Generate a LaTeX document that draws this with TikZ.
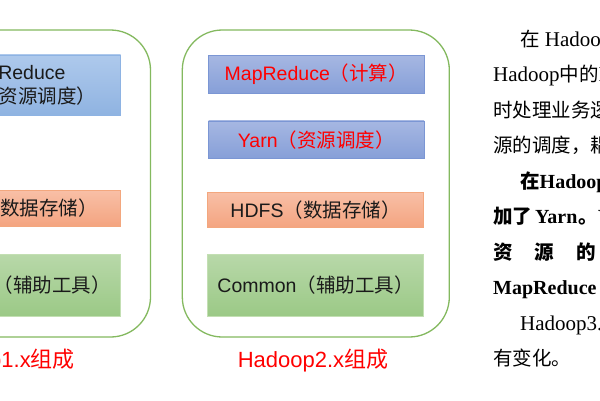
\documentclass[tikz,border=0pt]{standalone}
\usepackage{fontspec}
\setmainfont{Liberation Serif}
\newfontfamily\cjk{Noto Sans CJK SC}
\newfontfamily\arialf{Liberation Sans}
\newcommand\zh[1]{{\cjk\fontsize{19.5}{22}\selectfont #1}}
\definecolor{contgreen}{HTML}{84B95F}
\definecolor{lbtop}{HTML}{AEC9EC}
\definecolor{lbbot}{HTML}{8FB3E1}
\definecolor{lbdraw}{HTML}{8EB3E3}
\definecolor{rbtop}{HTML}{A6B7E2}
\definecolor{rbbot}{HTML}{869FD8}
\definecolor{rbdraw}{HTML}{7B96D4}
\definecolor{ortop}{HTML}{F8BFA6}
\definecolor{orbot}{HTML}{F4A480}
\definecolor{ordraw}{HTML}{F3A77E}
\definecolor{grtop}{HTML}{B8D8A9}
\definecolor{grbot}{HTML}{9BC986}
\definecolor{grdraw}{HTML}{C3DFB3}
\definecolor{txtdark}{HTML}{1A1A1A}
\begin{document}
\begin{tikzpicture}[x=1pt,y=-1pt,
  container/.style={draw=contgreen, line width=1.3pt, rounded corners=40pt, minimum width=267pt, minimum height=307pt, inner sep=0pt},
  blockbase/.style={line width=0.8pt, inner sep=0pt, minimum width=215.6pt, text=txtdark, align=center, font=\arialf\fontsize{19.5}{24}\selectfont},
  bluel/.style={blockbase, top color=lbtop, bottom color=lbbot, draw=lbdraw},
  bluer/.style={blockbase, top color=rbtop, bottom color=rbbot, draw=rbdraw, text=red},
  orangebox/.style={blockbase, top color=ortop, bottom color=orbot, draw=ordraw, minimum height=35.5pt},
  greenbox/.style={blockbase, top color=grtop, bottom color=grbot, draw=grdraw, minimum height=62pt},
  caption/.style={text=red, inner sep=0pt, font=\arialf\fontsize{22}{26}\selectfont},
  para/.style={anchor=base west, inner sep=0pt, font=\fontsize{21}{24}\selectfont},
  parab/.style={para, font=\fontsize{20}{24}\selectfont\bfseries}
]
\useasboundingbox (0,0) rectangle (600,400);
\clip (0,0) rectangle (600,400);
\fill[white] (0,0) rectangle (600,400);

% containers
\node[container] (c1) at (17,183.5) {};
\node[container] (c2) at (315.8,183.5) {};

% Hadoop 1.x blocks
\node[bluel, minimum height=60.7pt] (mr1) at (12.9,85.3) {MapReduce\\\zh{（计算+资源调度）}};
\node[orangebox] (hd1) at (12.9,208.4) {HDFS\zh{（数据存储）}};
\node[greenbox] (cm1) at (12.9,285) {Common\zh{（辅助工具）}};
\node[caption, anchor=east] (l1) at (75,361) {Hadoop1.x\zh{\fontsize{22}{26}\selectfont 组成}};

% Hadoop 2.x blocks
\node[bluer, minimum height=38.3pt] (mr2) at (316.3,74.2) {MapReduce\zh{（计算）}};
\node[bluer, minimum height=37.7pt] (yn2) at (316.3,139.8) {Yarn\zh{（资源调度）}};
\node[orangebox] (hd2) at (315.5,210) {HDFS\zh{（数据存储）}};
\node[greenbox] (cm2) at (315.5,285) {Common\zh{（辅助工具）}};
\node[caption] (l2) at (313,361) {Hadoop2.x\zh{\fontsize{22}{26}\selectfont 组成}};

% paragraph text
\node[para] (p1) at (520,46) {\zh{在} Hadoop1.x \zh{时代，}};
\node[para] (p2) at (493,81.5) {Hadoop\zh{中的}MapReduce\zh{同}};
\node[para] (p3) at (493,117) {\zh{时处理业务逻辑运算和资}};
\node[para] (p4) at (493,152.5) {\zh{源的调度，耦合性较大。}};
\node[parab] (p5) at (520,188) {\zh{在}Hadoop2.x\zh{时代，增}};
\node[parab] (p6) at (493,223.5) {\zh{加了}\hspace{3pt}Yarn\hspace{1pt}\zh{。}Yarn\zh{只负责}};
\node[parab] (p7) at (493,259) {\zh{资\hspace{22pt}源\hspace{22pt}的\hspace{22pt}调\hspace{22pt}度\hspace{22pt}，}};
\node[parab] (p8) at (493,294.5) {MapReduce \zh{只负责运算。}};
\node[para] (p9) at (520,330) {Hadoop3.x\zh{在组成上没}};
\node[para] (p10) at (493,365.5) {\zh{有变化。}};
\end{tikzpicture}
\end{document}
